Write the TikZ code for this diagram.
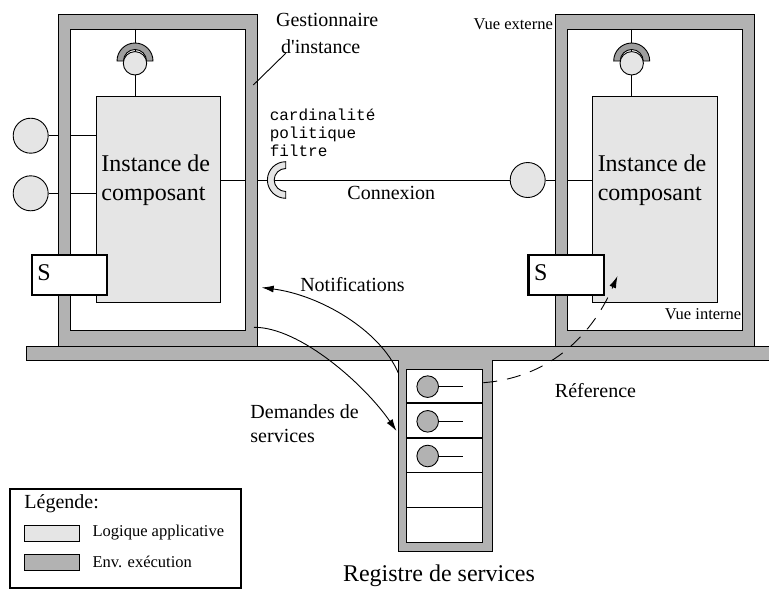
\documentclass[tikz,border=0pt]{standalone}
\usepackage{fontspec}
\setmainfont{Liberation Serif}
\setmonofont{Liberation Mono}
\usetikzlibrary{positioning,arrows.meta}
\definecolor{envgray}{gray}{0.7}
\definecolor{logicgray}{gray}{0.9}
\definecolor{cupgray}{gray}{0.62}

\begin{document}
\begin{tikzpicture}[
    x=1pt, y=-1pt, line width=0.9pt,
    every node/.style={inner sep=0pt},
    envframe/.style={draw, fill=envgray, minimum width=198.6pt, minimum height=332pt},
    envhole/.style={draw, fill=white, minimum width=175pt, minimum height=300.7pt},
    logic/.style={draw, fill=logicgray, minimum width=124.7pt, minimum height=205.6pt},
    port/.style={circle, draw, fill=logicgray, minimum size=35pt},
    topport/.style={circle, draw, fill=logicgray, minimum size=23.4pt},
    sbox/.style={draw, line width=2.2pt, fill=white, minimum width=75.6pt, minimum height=40.3pt, text width=64.4pt, inner xsep=5.6pt, align=left, font=\fontsize{24}{29}\selectfont},
    slot/.style={circle, draw, fill=envgray, minimum size=21.6pt},
    swatch/.style={draw, minimum width=55pt, minimum height=16pt},
    txt/.style={font=\fontsize{20}{24}\selectfont},
    bigtxt/.style={font=\fontsize{24}{29.3}\selectfont},
    smalltxt/.style={font=\fontsize{16.5}{19}\selectfont},
    monotxt/.style={font=\ttfamily\fontsize{16}{18}\selectfont},
    tip/.style={-{Latex[length=12pt,width=7pt]}},
]
    \useasboundingbox (0,0) rectangle (769,590);

    %platform and registry
    \filldraw[fill=envgray] (26.7,346.7) -- (771,346.7) -- (771,360) -- (492,360) -- (492,551.7) -- (398.3,551.7) -- (398.3,360) -- (26.7,360) -- cycle;

    %frames
    \node[envframe] (lframe) at (158,180.7) {};
    \node[envhole] (lin) at (158.2,179.65) {};
    \node[envframe] (rframe) at (654.7,180.7) {};
    \node[envhole] (rin) at (654.9,179.65) {};

    %ports and boxes
    \node[port] (lp1) at (30.7,135.7) {};
    \node[port] (lp2) at (30.7,193.3) {};
    \node[port] (rp) at (527.7,180) {};
    \coordinate (ltopc) at (135,63.3);
    \coordinate (rtopc) at (631.7,63.3);
    \node[logic] (lbox) at (158.35,199.5) {};
    \node[logic] (rbox) at (655.05,199.5) {};

    %lines
    \draw (lp1) -- (lp1 -| lframe.west);
    \draw (lp1 -| lin.west) -- (lp1 -| lbox.west);
    \draw (lp2) -- (lp2 -| lframe.west);
    \draw (lp2 -| lin.west) -- (lp2 -| lbox.west);
    \draw (ltopc |- lin.north) -- (ltopc |- lbox.north);
    \draw (rtopc |- rin.north) -- (rtopc |- rbox.north);
    \draw (lbox.east |- rp) -- (lin.east |- rp);
    \draw (lframe.east |- rp) -- (rp);
    \draw (rp) -- (rp -| rframe.west);
    \draw (rp -| rin.west) -- (rp -| rbox.west);

    %cups
    \filldraw[fill=cupgray] (117,61) arc[start angle=180, end angle=0, radius=18pt] -- (146.5,61) arc[start angle=0, end angle=180, radius=11.5pt] -- cycle;
    \filldraw[fill=cupgray] (613.7,61) arc[start angle=180, end angle=0, radius=18pt] -- (643.2,61) arc[start angle=0, end angle=180, radius=11.5pt] -- cycle;
    \filldraw[fill=logicgray] (285.7,161.7) arc[start angle=90, end angle=270, radius=18.3pt] -- (285.7,191.5) arc[start angle=270, end angle=90, radius=11.5pt] -- cycle;
    \node[topport] (ltop) at (ltopc) {};
    \node[topport] (rtop) at (rtopc) {};

    %S boxes
    \node[sbox] (ls) at (69.5,274.85) {S\strut};
    \node[sbox] (rs) at (566.2,274.85) {S\strut};

    %registry
    \node[draw, line width=1.5pt, fill=white, minimum width=76pt, minimum height=173.4pt] (reg) at (444.7,456) {};
    \foreach \k in {1,...,4}
        \draw[line width=1.5pt] ([yshift={-34.68pt*\k}]reg.north west) -- ([yshift={-34.68pt*\k}]reg.north east);
    \foreach \k in {1,2,3} {
        \node[slot] (slot\k) at (427.7,{351.96+34.68*\k}) {};
        \draw (slot\k.east) -- ++(24.2,0);
    }

    %texts
    \node[txt, anchor=west, align=left, font=\fontsize{20}{26.7}\selectfont] (gest) at (275.7,33.3) {Gestionnaire\\\hspace{5pt}d\textquotesingle instance};
    \coordinate (gtip) at (285.7,53.3);
    \coordinate (gfoot) at (253.3,85);
    \draw (gfoot) -- (gtip);
    \node[monotxt, anchor=west, align=left] (policy) at (269.3,132.3) {cardinalité\\politique\\filtre};
    \node[txt] (conn) at (391.3,193.3) {Connexion};
    \node[smalltxt, anchor=east] (vext) at (553.3,24) {Vue externe};
    \node[smalltxt, anchor=east] (vint) at (741.7,314) {Vue interne};
    \node[bigtxt, anchor=west, align=left] (ltxt) at (101,180.4) {Instance de\\composant};
    \node[bigtxt, anchor=west, align=left] (rtxt) at (597.3,180.4) {Instance de\\composant};
    \node[txt] (notif) at (352.5,285) {Notifications};
    \node[txt, anchor=west, align=left, font=\fontsize{20}{24.3}\selectfont] (dem) at (250,423.85) {Demandes de\\services};
    \node[txt] (refer) at (595.5,390.7) {Réference};
    \node[bigtxt] (regname) at (439,576) {Registre de services};

    %legend
    \node[draw, line width=2.2pt, minimum width=230.7pt, minimum height=99pt] (leg) at (125.35,538.8) {};
    \node[swatch, fill=logicgray] (sw1) at (51.5,533) {};
    \node[swatch, fill=envgray] (sw2) at (51.5,562.15) {};
    \node[txt, anchor=west] (legtitle) at (24,504) {Légende:};
    \node[smalltxt, right=12.7pt of sw1] (sw1txt) {Logique applicative};
    \node[smalltxt, right=12.7pt of sw2] (sw2txt) {Env. exécution};

    %arrows
    \coordinate (notifA) at (398.3,373);
    \coordinate (notifB) at (261.7,287.5);
    \draw[tip] (notifA) .. controls (380,330) and (320,295) .. (notifB);
    \coordinate (demA) at (254,327.3);
    \coordinate (demB) at (396.5,431);
    \draw[tip] (demA) .. controls (300,327) and (365,385) .. (demB);
    \coordinate (refA) at (483.3,382.7);
    \coordinate (refB) at (617.5,276);
    \draw[tip, dash pattern=on 14pt off 10pt] (refA) .. controls (545,378) and (590,340) .. (refB);
\end{tikzpicture}
\end{document}
